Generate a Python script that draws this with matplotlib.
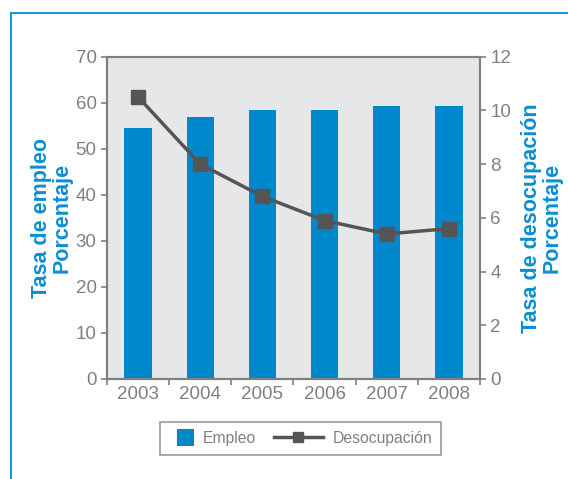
import matplotlib.pyplot as plt
from matplotlib.lines import Line2D
from matplotlib.patches import Rectangle
from matplotlib.legend_handler import HandlerPatch, HandlerBase
import numpy as np

years = ['2003', '2004', '2005', '2006', '2007', '2008']
empleo = [54.5, 56.9, 58.4, 58.4, 59.3, 59.3]
desocupacion = [10.5, 8.0, 6.8, 5.9, 5.4, 5.6]

blue = '#0088cc'
label_blue = '#0a8ed3'
gray_txt = '#808080'
dark = '#555555'

plt.rcParams['font.family'] = ['Liberation Sans', 'DejaVu Sans']

fig = plt.figure(figsize=(5.68, 4.79), dpi=100)
ax = fig.add_axes([0.1884, 0.2088, 0.6566, 0.6728])
ax.set_facecolor('#e6e7e9')

x = np.arange(len(years))
ax.bar(x, empleo, width=0.44, color=blue, zorder=2)
ax.set_xlim(-0.5, len(years) - 0.5)
ax.set_ylim(0, 70)
ax.set_yticks(range(0, 71, 10))
ax.set_xticks(x)
ax.set_xticklabels(years)
ax.set_xticks(np.arange(-0.5, len(years), 1), minor=True)
ax.tick_params(axis='x', which='major', length=0, pad=5)
ax.tick_params(axis='x', which='minor', length=4, width=1.2, color=gray_txt)
ax.tick_params(axis='y', length=4, width=1.2, color=gray_txt)
ax.tick_params(labelsize=13.5, labelcolor=gray_txt)

ax2 = ax.twinx()
ax2.plot(x, desocupacion, color=dark, lw=2.5, marker='s', markersize=10, zorder=3)
ax2.set_ylim(0, 12)
ax2.set_yticks(range(0, 13, 2))
ax2.tick_params(axis='y', length=4, width=1.2, color=gray_txt,
                labelsize=13.5, labelcolor=gray_txt)

for a in (ax, ax2):
    for s in a.spines.values():
        s.set_color(gray_txt)
        s.set_linewidth(1.5)

ax.set_ylabel('Tasa de empleo\nPorcentaje', color=label_blue, fontsize=15.5,
              fontweight='bold', linespacing=1.0, labelpad=2)
ax2.set_ylabel('Tasa de desocupación\nPorcentaje', color=label_blue, fontsize=15.5,
               fontweight='bold', linespacing=1.0, labelpad=7)


def square_patch(legend, orig_handle, xdescent, ydescent, width, height, fontsize):
    s = 11.5
    return Rectangle((width - xdescent - s, -ydescent + height / 2 - s / 2), s, s)


class LongLine(HandlerBase):
    # line handle that reaches back into the column gap
    def create_artists(self, legend, orig_handle, xdescent, ydescent,
                       width, height, fontsize, trans):
        extra = 17.5
        y = -ydescent + height / 2
        x0, x1 = -xdescent - extra, width - xdescent
        line = Line2D([x0, x1], [y, y], color=dark, lw=2.5)
        mark = Line2D([(x0 + x1) / 2], [y], marker='s', markersize=7,
                      color=dark, linestyle='none')
        line.set_transform(trans)
        mark.set_transform(trans)
        return [line, mark]


handles = [
    Rectangle((0, 0), 1, 1, facecolor=blue, edgecolor='#666666', linewidth=0.8),
    Line2D([], [], color=dark, lw=2.5, marker='s', markersize=7),
]
leg = fig.legend(handles, ['Empleo', 'Desocupación'], loc='center',
                 bbox_to_anchor=(0.529, 0.0846), ncol=2, frameon=True,
                 fancybox=False, fontsize=11.3, handlelength=1.55,
                 columnspacing=2.7, handletextpad=0.64, borderpad=0.55,
                 borderaxespad=0, labelcolor=gray_txt,
                 handler_map={Rectangle: HandlerPatch(patch_func=square_patch),
                              Line2D: LongLine()})
leg.get_frame().set_edgecolor(gray_txt)
leg.get_frame().set_linewidth(1.2)

# blue frame around the chart
fig.add_artist(Line2D([10.5 / 568, 10.5 / 568], [0, 1 - 13 / 479], color='#1a9ad6', lw=1.5))
fig.add_artist(Line2D([10.5 / 568, 1], [1 - 13 / 479, 1 - 13 / 479], color='#1a9ad6', lw=1.5))

fig.savefig('out.png', dpi=100)
